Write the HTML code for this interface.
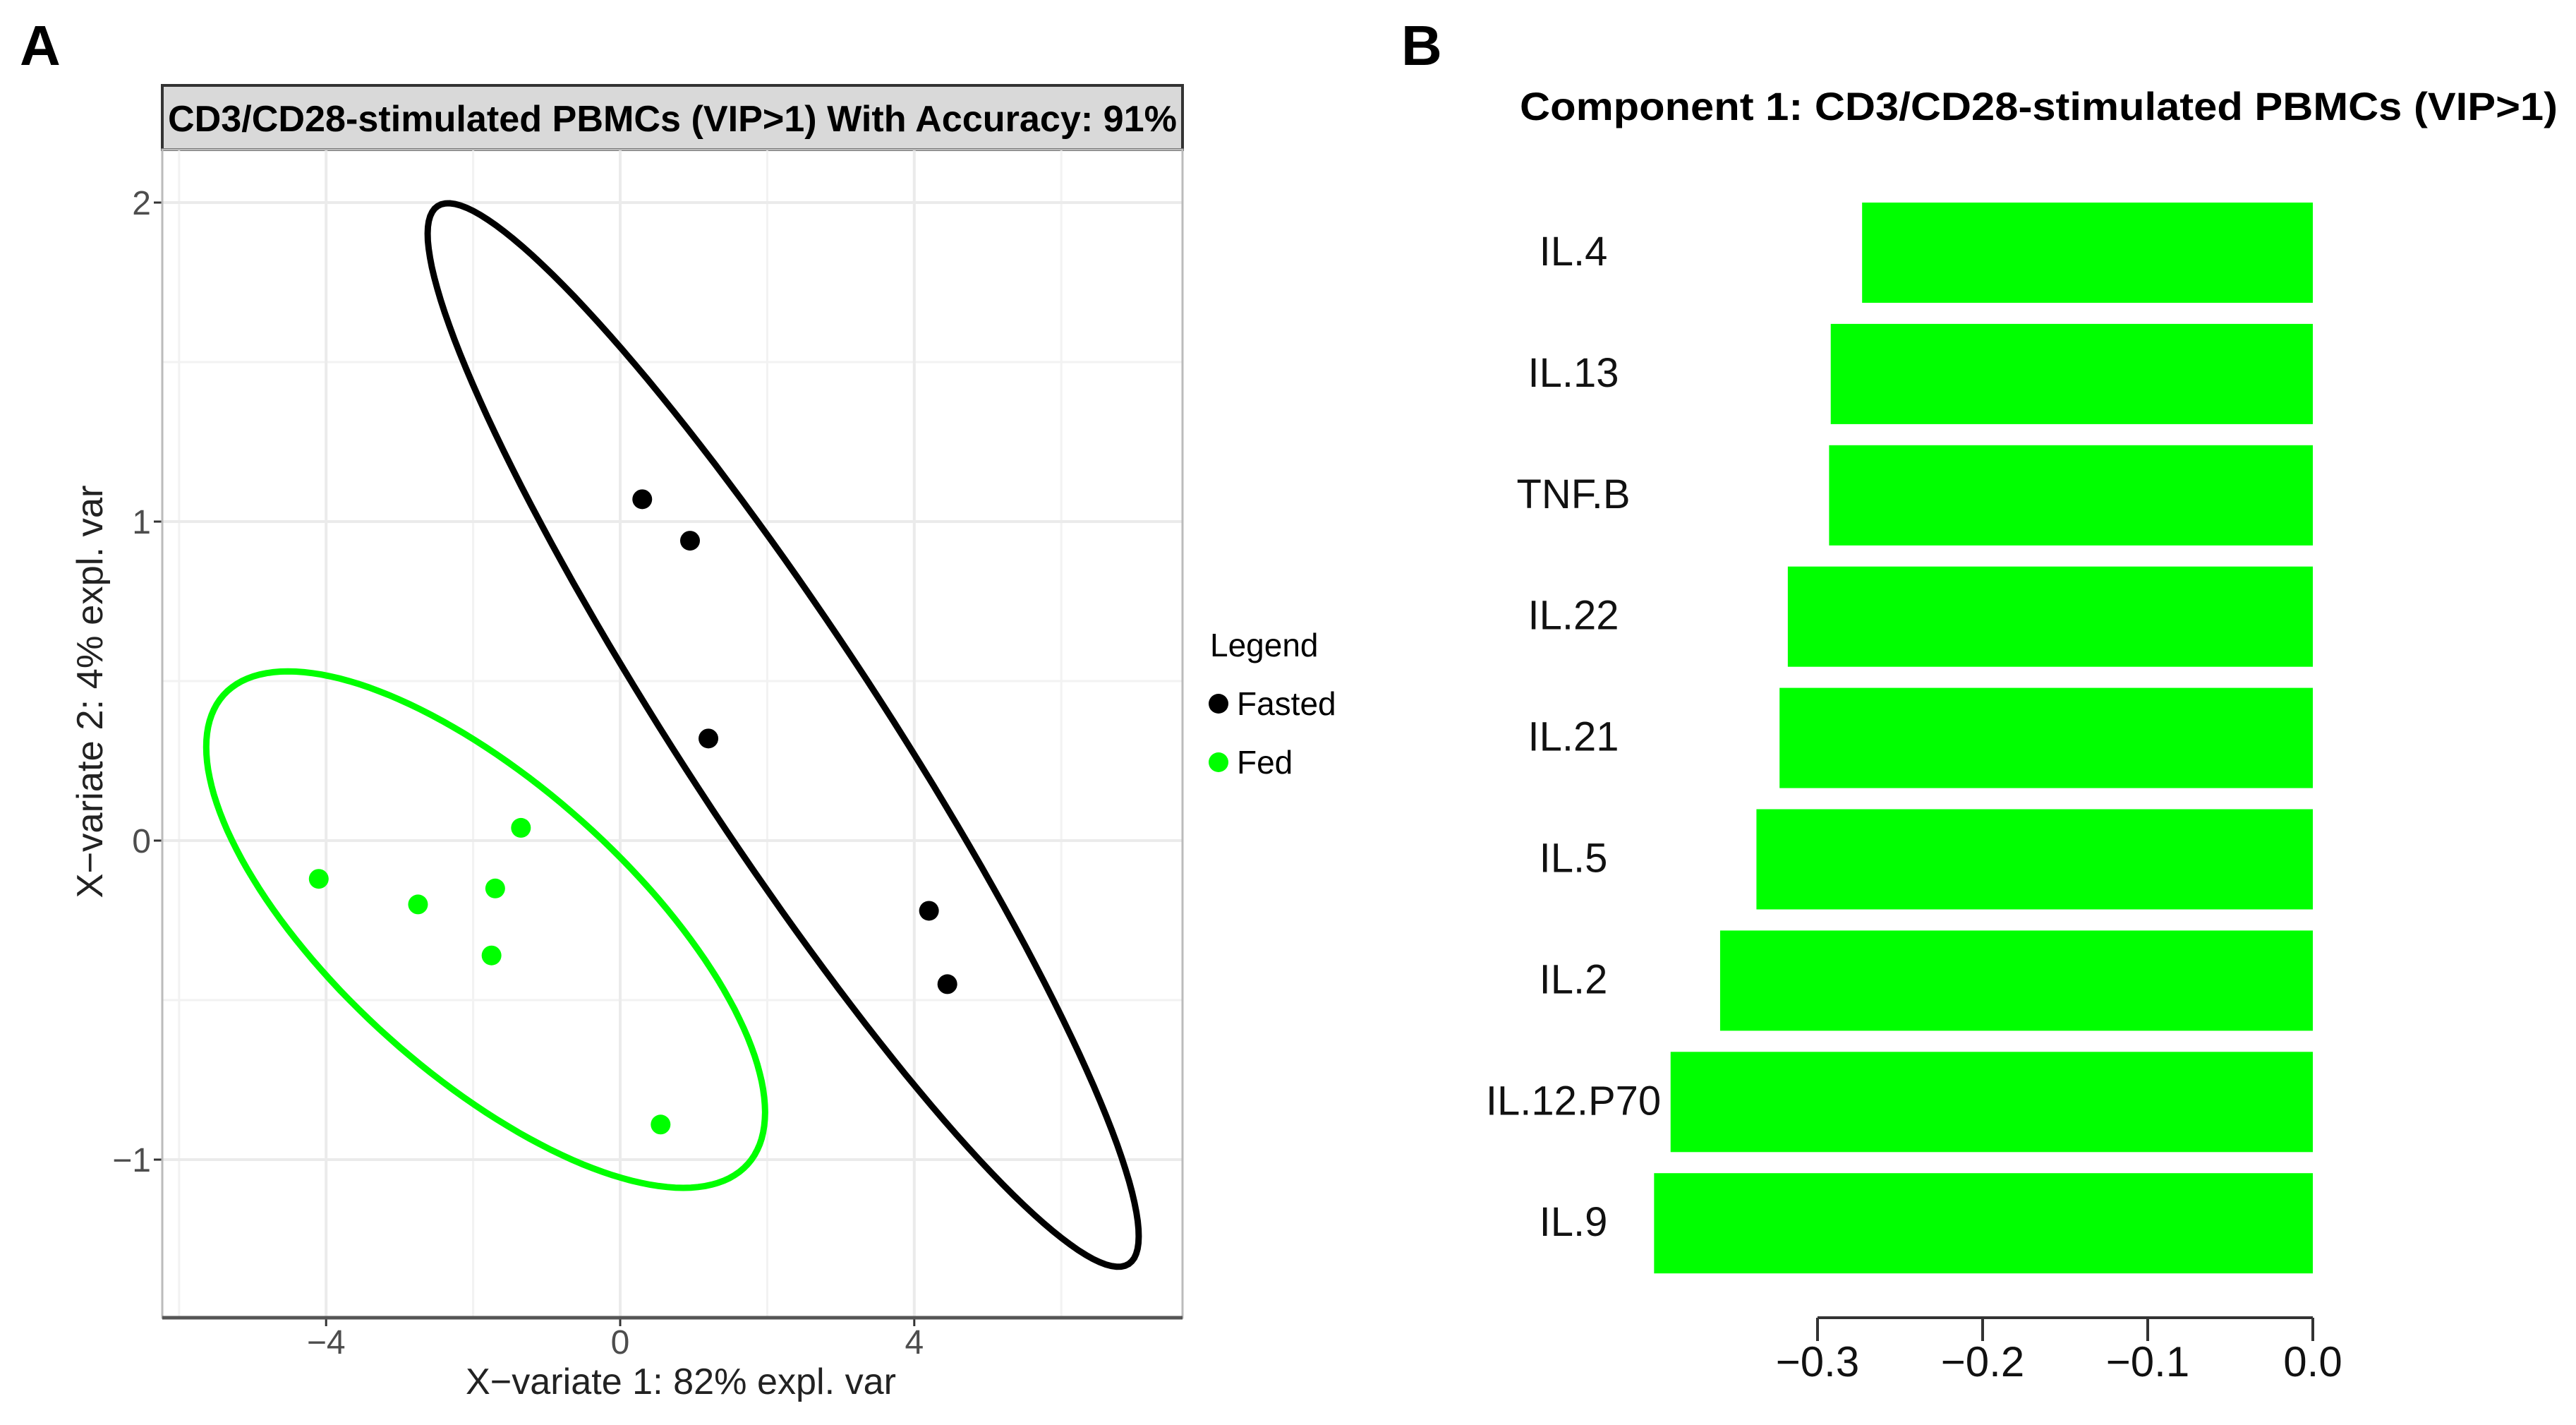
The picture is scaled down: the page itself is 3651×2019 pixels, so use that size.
<!DOCTYPE html>
<html><head><meta charset="utf-8"><style>
html,body{margin:0;padding:0;background:#fff;}
svg{display:block;font-family:"Liberation Sans",Arial,sans-serif;}
</style></head><body>
<svg id="fig" width="3651" height="2019" viewBox="0 0 3651 2019" xmlns="http://www.w3.org/2000/svg">
<rect x="0" y="0" width="3651" height="2019" fill="#fff"/>
<text x="28" y="92" font-size="80" font-weight="bold">A</text>
<text x="1986" y="92" font-size="80" font-weight="bold">B</text>
<g id="pa"></g>
<g id="pb"></g>
</svg>
<script>
const NS = "http://www.w3.org/2000/svg";
// ---- Panel A data ----
const fastedX = [0.3, 0.95, 1.2, 4.2, 4.45];
const fastedY = [1.07, 0.94, 0.32, -0.22, -0.45];
const fedX = [-4.1, -2.75, -1.7, -1.35, -1.75, 0.55];
const fedY = [-0.12, -0.2, -0.15, 0.04, -0.36, -0.89];
const xTicks = [-4, 0, 4];
const yTicks = [-1, 0, 1, 2];
const xMinor = [-6, -2, 2, 6];
const yMinor = [-0.5, 0.5, 1.5];
// ellipses: center, major half-vector, minor half-vector (data units)
const fastedEllipse = [2.217, 0.331, 4.70, -1.658, 1.139, 0.172];
const fedEllipse = [-1.83, -0.279, 3.566, -0.735, -1.315, -0.339];
// ---- Panel B data ----
const cytokines = ["IL.4","IL.13","TNF.B","IL.22","IL.21","IL.5","IL.2","IL.12.P70","IL.9"];
const loadings = [-0.273,-0.292,-0.293,-0.318,-0.323,-0.337,-0.359,-0.389,-0.399];
const bTicks = [-0.3,-0.2,-0.1,0.0];
const bTickLabels = ["\u22120.3","\u22120.2","\u22120.1","0.0"];

function el(tag, attrs, parent){const e=document.createElementNS(NS,tag);for(const k in attrs)e.setAttribute(k,attrs[k]);parent.appendChild(e);return e;}

// Panel A
const pa=document.getElementById('pa');
const L=230,R=1676,T=212,B=1867;
const sx=v=>879+v*104.2;
const sy=v=>1191-v*452;
let s=el('rect',{x:230,y:121,width:1446,height:91,fill:'#d9d9d9',stroke:'#333','stroke-width':4},pa);


let t=el('text',{x:953,y:186,'font-size':52,'font-weight':'bold','text-anchor':'middle',textLength:1430,lengthAdjust:'spacingAndGlyphs'},pa);
t.textContent='CD3/CD28-stimulated PBMCs (VIP>1) With Accuracy: 91%';


xMinor.forEach(v=>{const g=el('line',{x1:sx(v),x2:sx(v),y1:T,y2:B,stroke:'#f2f2f2','stroke-width':3},pa);

});
yMinor.forEach(v=>{const g=el('line',{x1:L,x2:R,y1:sy(v),y2:sy(v),stroke:'#f2f2f2','stroke-width':3},pa);

});
xTicks.forEach(v=>{const g=el('line',{x1:sx(v),x2:sx(v),y1:T,y2:B,stroke:'#ebebeb','stroke-width':4},pa);


const k=el('line',{x1:sx(v),x2:sx(v),y1:B,y2:B+12,stroke:'#333','stroke-width':3},pa);


const lb=el('text',{x:sx(v),y:1918,'font-size':48,fill:'#4d4d4d','text-anchor':'middle'},pa);
lb.textContent=v<0?'\u2212'+Math.abs(v):String(v);

});
yTicks.forEach(v=>{const g=el('line',{x1:L,x2:R,y1:sy(v),y2:sy(v),stroke:'#ebebeb','stroke-width':4},pa);


const k=el('line',{x1:L-12,x2:L,y1:sy(v),y2:sy(v),stroke:'#333','stroke-width':3},pa);


const lb=el('text',{x:L-16,y:sy(v)+17,'font-size':48,fill:'#4d4d4d','text-anchor':'end'},pa);
lb.textContent=v<0?'\u2212'+Math.abs(v):String(v);

});
let bd=el('rect',{x:L,y:T,width:R-L,height:B-T,fill:'none',stroke:'#bbb','stroke-width':3},pa);


let ax=el('line',{x1:L,x2:R,y1:B,y2:B,stroke:'#555','stroke-width':5},pa);


function ellipse(p,color,name){let d='';for(let i=0;i<=160;i++){const a=i/160*2*Math.PI;const x=p[0]+Math.cos(a)*p[2]+Math.sin(a)*p[4];const y=p[1]+Math.cos(a)*p[3]+Math.sin(a)*p[5];d+=(i?'L':'M')+sx(x).toFixed(1)+','+sy(y).toFixed(1);}
const e=el('path',{d:d+'Z',fill:'none',stroke:color,'stroke-width':9},pa);

}
ellipse(fastedEllipse,'#000','fasted-ellipse');
ellipse(fedEllipse,'#00ff00','fed-ellipse');
fastedX.forEach((v,i)=>{const c=el('circle',{cx:sx(v),cy:sy(fastedY[i]),r:14,fill:'#000'},pa);

});
fedX.forEach((v,i)=>{const c=el('circle',{cx:sx(v),cy:sy(fedY[i]),r:14,fill:'#00ff00'},pa);

});
let xt=el('text',{x:965,y:1975,'font-size':52,fill:'#222','text-anchor':'middle',textLength:610,lengthAdjust:'spacingAndGlyphs'},pa);
xt.textContent='X\u2212variate 1: 82% expl. var';


let yt=el('text',{x:0,y:0,'font-size':52,fill:'#222','text-anchor':'middle',textLength:585,lengthAdjust:'spacingAndGlyphs',transform:'translate(145,980) rotate(-90)'},pa);
yt.textContent='X\u2212variate 2: 4% expl. var';


let lg=el('text',{x:1715,y:930,'font-size':46},pa);
lg.textContent='Legend';


[['Fasted','#000',997],['Fed','#00ff00',1080]].forEach(r=>{const c=el('circle',{cx:1727,cy:r[2],r:14,fill:r[1]},pa);


const tx=el('text',{x:1753,y:r[2]+16,'font-size':46},pa);tx.textContent=r[0];

});

// Panel B
const pb=document.getElementById('pb');
const bx=v=>3278+v*2340;
const rowTop=287,pitch=171.9,barH=142;
let bt=el('text',{x:3625,y:170,'font-size':56,'font-weight':'bold','text-anchor':'end',textLength:1471,lengthAdjust:'spacingAndGlyphs'},pb);
bt.textContent='Component 1:  CD3/CD28-stimulated PBMCs (VIP>1)';


cytokines.forEach((n,i)=>{const y=rowTop+i*pitch;const v=loadings[i];
const r=el('rect',{x:bx(v),y:y,width:bx(0)-bx(v),height:barH,fill:'#00ff00'},pb);


const l=el('text',{x:2230,y:y+barH/2+18,'font-size':58,fill:'#111','text-anchor':'middle'},pb);
l.textContent=n;

});
let bax=el('line',{x1:bx(-0.3),x2:bx(0),y1:1867,y2:1867,stroke:'#333','stroke-width':4},pb);


bTicks.forEach((v,i)=>{const k=el('line',{x1:bx(v),x2:bx(v),y1:1867,y2:1900,stroke:'#333','stroke-width':4},pb);


const lb=el('text',{x:bx(v),y:1950,'font-size':60,fill:'#111','text-anchor':'middle'},pb);
lb.textContent=bTickLabels[i];

});
</script>
</body></html>
